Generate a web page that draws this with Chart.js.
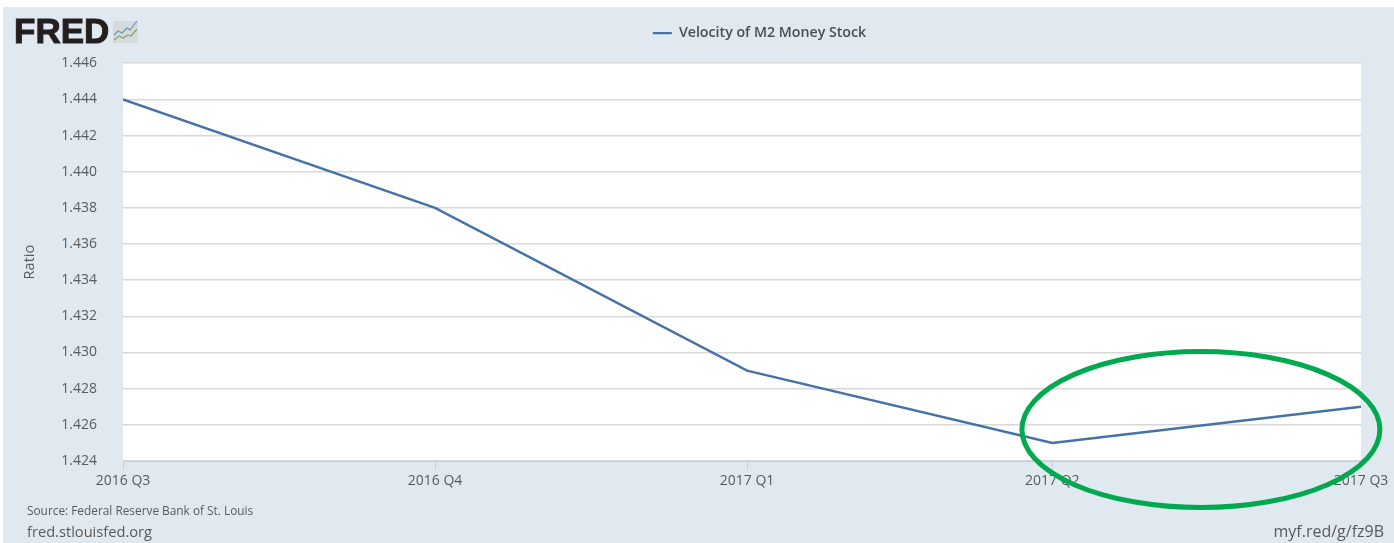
<!DOCTYPE html>
<html>
<head>
<meta charset="utf-8">
<script src="https://cdn.jsdelivr.net/npm/chart.js@4"></script>
<style>
    html, body { margin: 0; padding: 0; background: #fff; }
    #wrap { width: 1394px; height: 543px; }
</style>
</head>
<body>
<div id="wrap"><canvas id="chart" width="1394" height="543"></canvas></div>
<script>
    const SERIES_NAME = 'Velocity of M2 Money Stock';
    const QUARTERS = ['2016 Q3', '2016 Q4', '2017 Q1', '2017 Q2', '2017 Q3'];
    const DAYS_FROM_START = [0, 92, 184, 274, 365];
    const VELOCITY = [1.444, 1.438, 1.429, 1.425, 1.427];
    const Y_TICKS = [1.424, 1.426, 1.428, 1.43, 1.432, 1.434, 1.436, 1.438, 1.44, 1.442, 1.444, 1.446];

    const PANEL = '#e1e9f0';
    const TEXT = '#5a5a5a';
    const FONT = '"Open Sans", sans-serif';

    const points = DAYS_FROM_START.map(function (day, i) {
        return { x: day, y: VELOCITY[i] };
    });

    // page furniture: panel, white plot area, logo, footer text
    const framePlugin = {
        id: 'frame',
        beforeInit: function (chart) {
            // empty box under the legend, pushes the plot area down
            Chart.layouts.addBox(chart, {
                position: 'top',
                weight: 500,
                fullSize: true,
                options: {},
                isHorizontal: function () {
                    return true;
                },
                update: function (width) {
                    this.width = width;
                    this.height = 13;
                },
                draw: function () {},
            });
        },
        beforeDraw: function (chart) {
            const ctx = chart.ctx;
            const area = chart.chartArea;
            ctx.save();
            ctx.fillStyle = PANEL;
            ctx.fillRect(3, 7, chart.width - 3, chart.height - 7);
            ctx.fillStyle = '#fff';
            ctx.fillRect(area.left, area.top, area.right - area.left, area.bottom - area.top);
            ctx.restore();
        },
        afterLayout: function (chart) {
            // legend sits right of centre in the original
            chart.legend.left += 79;
            chart.legend.right += 79;
        },
        afterDraw: function (chart) {
            const ctx = chart.ctx;
            ctx.save();

            ctx.fillStyle = '#231f20';
            ctx.strokeStyle = '#231f20';
            ctx.lineWidth = 1;
            ctx.font = 'bold 35px "Liberation Sans", sans-serif';
            ctx.textBaseline = 'alphabetic';
            ctx.textAlign = 'left';
            ctx.fillText('FRED', 14, 43);
            ctx.strokeText('FRED', 14, 43);

            ctx.fillStyle = '#d5dadd';
            ctx.fillRect(113, 21, 25, 22);
            ctx.lineWidth = 1.2;
            ctx.strokeStyle = '#6f97ad';
            drawPath(ctx, [[114, 35], [118, 31], [122, 33], [127, 28], [130, 30], [137, 21]]);
            ctx.strokeStyle = '#7fa860';
            drawPath(ctx, [[114, 40], [119, 36], [123, 38], [128, 35], [131, 36], [137, 29]]);

            ctx.fillStyle = TEXT;
            ctx.font = '11.85px ' + FONT;
            ctx.fillText('Source: Federal Reserve Bank of St. Louis', 27, 515);
            ctx.font = '14.65px ' + FONT;
            ctx.fillText('fred.stlouisfed.org', 27, 537);
            ctx.textAlign = 'right';
            ctx.font = '16px ' + FONT;
            ctx.fillText('myf.red/g/fz9B', 1384, 537);

            // green highlight around the last quarter, anchored on the scales
            const cx = chart.scales.x.getPixelForValue(317.8);
            const cy = chart.scales.y.getPixelForValue(1.42574);
            ctx.strokeStyle = '#00a84f';
            ctx.lineWidth = 5;
            ctx.beginPath();
            ctx.ellipse(cx, cy, 179, 78, 0, 0, Math.PI * 2);
            ctx.stroke();
            ctx.restore();
        },
    };

    function drawPath(ctx, path) {
        ctx.beginPath();
        path.forEach(function (p, i) {
            if (i === 0) {
                ctx.moveTo(p[0], p[1]);
            } else {
                ctx.lineTo(p[0], p[1]);
            }
        });
        ctx.stroke();
    }

    new Chart(document.getElementById('chart').getContext('2d'), {
        type: 'line',
        data: {
            datasets: [
                {
                    label: SERIES_NAME,
                    data: points,
                    borderColor: '#4572a7',
                    backgroundColor: '#4572a7',
                    borderWidth: 2.4,
                    pointRadius: 0,
                    tension: 0,
                },
            ],
        },
        options: {
            responsive: false,
            animation: false,
            layout: { padding: { left: 0, right: 33, top: 14, bottom: 0 } },
            plugins: {
                tooltip: { enabled: false },
                legend: {
                    position: 'top',
                    labels: {
                        boxWidth: 19,
                        boxHeight: 0,
                        padding: 12,
                        color: '#4d4d4d',
                        font: { family: FONT, size: 14.2, weight: '600' },
                    },
                },
            },
            scales: {
                x: {
                    type: 'linear',
                    min: DAYS_FROM_START[0],
                    max: DAYS_FROM_START[DAYS_FROM_START.length - 1],
                    afterBuildTicks: function (axis) {
                        axis.ticks = DAYS_FROM_START.map(function (day) {
                            return { value: day };
                        });
                    },
                    afterFit: function (axis) {
                        axis.height = 82;
                    },
                    border: { color: '#c0d0e0', width: 1 },
                    grid: { drawOnChartArea: false, color: '#c0d0e0', tickLength: 9 },
                    ticks: {
                        autoSkip: false,
                        maxRotation: 0,
                        padding: 3,
                        color: TEXT,
                        font: { family: FONT, size: 14 },
                        callback: function (value, index) {
                            return QUARTERS[index];
                        },
                    },
                },
                y: {
                    min: Y_TICKS[0],
                    max: Y_TICKS[Y_TICKS.length - 1],
                    afterBuildTicks: function (axis) {
                        axis.ticks = Y_TICKS.map(function (v) {
                            return { value: v };
                        });
                    },
                    afterFit: function (axis) {
                        axis.width = 123;
                    },
                    border: { display: false },
                    grid: { color: '#d8d8d8', lineWidth: 1.5, drawTicks: false },
                    title: {
                        display: true,
                        text: 'Ratio',
                        color: TEXT,
                        font: { family: FONT, size: 14.5 },
                        padding: { top: 21, bottom: 0 },
                    },
                    ticks: {
                        padding: 26,
                        color: TEXT,
                        font: { family: FONT, size: 14 },
                        callback: function (value) {
                            return value.toFixed(3);
                        },
                    },
                },
            },
        },
        plugins: [framePlugin],
    });
</script>
</body>
</html>
